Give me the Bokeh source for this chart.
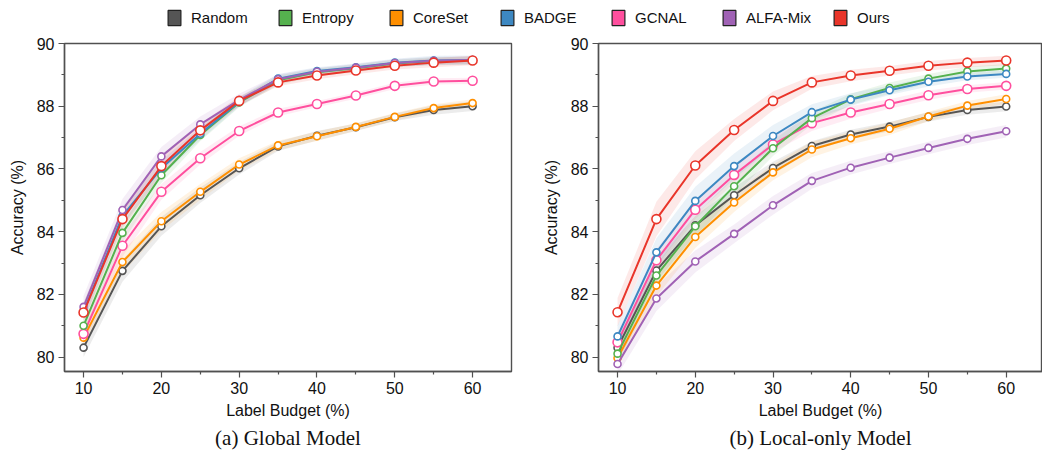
from bokeh.plotting import figure
from bokeh.models import Range1d, FixedTicker, Legend, LegendItem, Title
from bokeh.layouts import column, row
from bokeh.embed import file_html
from bokeh.resources import INLINE

# ---------------- data ----------------
BUDGET = [10, 15, 20, 25, 30, 35, 40, 45, 50, 55, 60]
METHODS = ["Random", "Entropy", "CoreSet", "BADGE", "GCNAL", "ALFA-Mix", "Ours"]
COLORS = ["#555555", "#55b14e", "#ff8f00", "#3d88c2", "#ff4f9e", "#a062b5", "#e9352a"]

X_TICKS = [10, 20, 30, 40, 50, 60]
Y_TICKS = [80, 82, 84, 86, 88, 90]

# (a) Global Model
RANDOM_G = [80.30, 82.75, 84.17, 85.16, 86.02, 86.72, 87.06, 87.33, 87.65, 87.88, 88.00]
ENTROPY_G = [81.00, 83.96, 85.80, 87.08, 88.12, 88.83, 89.08, 89.21, 89.36, 89.44, 89.46]
CORESET_G = [80.62, 83.03, 84.33, 85.27, 86.14, 86.75, 87.04, 87.34, 87.66, 87.94, 88.10]
BADGE_G = [81.45, 84.50, 86.02, 87.12, 88.14, 88.88, 89.12, 89.24, 89.39, 89.46, 89.47]
GCNAL_G = [80.74, 83.55, 85.27, 86.34, 87.21, 87.80, 88.07, 88.34, 88.65, 88.79, 88.81]
ALFA_G = [81.60, 84.69, 86.40, 87.42, 88.20, 88.86, 89.10, 89.23, 89.38, 89.45, 89.47]
OURS_G = [81.42, 84.40, 86.09, 87.23, 88.17, 88.76, 88.98, 89.14, 89.29, 89.39, 89.46]

STD_RANDOM_G = [0.30, 0.35, 0.30, 0.25, 0.20, 0.15, 0.15, 0.12, 0.12, 0.15, 0.15]
STD_ENTROPY_G = [0.30, 0.30, 0.25, 0.20, 0.15, 0.15, 0.12, 0.12, 0.12, 0.12, 0.12]
STD_CORESET_G = [0.30, 0.35, 0.30, 0.25, 0.20, 0.15, 0.15, 0.12, 0.12, 0.12, 0.12]
STD_BADGE_G = [0.30, 0.30, 0.25, 0.20, 0.15, 0.15, 0.12, 0.12, 0.12, 0.15, 0.15]
STD_GCNAL_G = [0.30, 0.35, 0.25, 0.20, 0.15, 0.12, 0.10, 0.10, 0.10, 0.10, 0.10]
STD_ALFA_G = [0.35, 0.35, 0.30, 0.25, 0.20, 0.15, 0.12, 0.12, 0.12, 0.12, 0.12]
STD_OURS_G = [0.30, 0.30, 0.25, 0.20, 0.15, 0.12, 0.12, 0.12, 0.12, 0.15, 0.15]

# (b) Local-only Model
RANDOM_L = [80.30, 82.76, 84.20, 85.16, 86.03, 86.73, 87.10, 87.35, 87.66, 87.88, 87.99]
ENTROPY_L = [80.11, 82.60, 84.17, 85.45, 86.66, 87.62, 88.22, 88.58, 88.88, 89.11, 89.20]
CORESET_L = [79.97, 82.28, 83.83, 84.93, 85.89, 86.62, 86.98, 87.28, 87.67, 88.02, 88.23]
BADGE_L = [80.66, 83.34, 84.98, 86.09, 87.05, 87.81, 88.21, 88.51, 88.78, 88.95, 89.03]
GCNAL_L = [80.47, 83.09, 84.70, 85.81, 86.78, 87.46, 87.80, 88.07, 88.35, 88.55, 88.65]
ALFA_L = [79.78, 81.87, 83.05, 83.93, 84.84, 85.62, 86.04, 86.36, 86.67, 86.96, 87.20]
OURS_L = [81.43, 84.40, 86.11, 87.24, 88.17, 88.76, 88.98, 89.13, 89.29, 89.39, 89.46]

STD_RANDOM_L = [0.30, 0.35, 0.30, 0.25, 0.20, 0.15, 0.15, 0.15, 0.15, 0.15, 0.15]
STD_ENTROPY_L = [0.30, 0.35, 0.35, 0.30, 0.25, 0.20, 0.18, 0.18, 0.15, 0.15, 0.15]
STD_CORESET_L = [0.30, 0.35, 0.35, 0.30, 0.25, 0.25, 0.20, 0.20, 0.15, 0.15, 0.15]
STD_BADGE_L = [0.35, 0.45, 0.45, 0.40, 0.35, 0.25, 0.20, 0.15, 0.15, 0.12, 0.12]
STD_GCNAL_L = [0.30, 0.35, 0.30, 0.25, 0.25, 0.25, 0.20, 0.15, 0.15, 0.12, 0.12]
STD_ALFA_L = [0.35, 0.40, 0.35, 0.30, 0.30, 0.25, 0.22, 0.20, 0.20, 0.20, 0.20]
STD_OURS_L = [0.45, 0.55, 0.45, 0.35, 0.30, 0.20, 0.18, 0.15, 0.15, 0.15, 0.15]

GLOBAL = [RANDOM_G, ENTROPY_G, CORESET_G, BADGE_G, GCNAL_G, ALFA_G, OURS_G]
GLOBAL_STD = [STD_RANDOM_G, STD_ENTROPY_G, STD_CORESET_G, STD_BADGE_G, STD_GCNAL_G, STD_ALFA_G, STD_OURS_G]
LOCAL = [RANDOM_L, ENTROPY_L, CORESET_L, BADGE_L, GCNAL_L, ALFA_L, OURS_L]
LOCAL_STD = [STD_RANDOM_L, STD_ENTROPY_L, STD_CORESET_L, STD_BADGE_L, STD_GCNAL_L, STD_ALFA_L, STD_OURS_L]

# ---------------- styling ----------------
SANS = "Liberation Sans"
SERIF = "Liberation Serif"
AXIS_COLOR = "#505050"
DRAW_ORDER = [0, 2, 4, 1, 3, 5, 6]
MARKER_SIZE = [7, 7, 7, 7, 9, 7, 9]


def make_panel(series, stds, caption, width, x_end, border_right):
    p = figure(width=width, height=420, output_backend="svg", toolbar_location=None,
               x_range=Range1d(7.55, x_end), y_range=Range1d(79.54, 90.0),
               min_border_left=64, min_border_right=border_right,
               min_border_top=10, min_border_bottom=82)
    p.background_fill_color = "white"
    p.border_fill_color = "white"
    p.outline_line_color = AXIS_COLOR
    p.outline_line_width = 1.4
    p.xgrid.visible = False
    p.ygrid.visible = False

    for i in DRAW_ORDER:
        ys = series[i]
        sd = stds[i]
        lo = [a - b for a, b in zip(ys, sd)]
        hi = [a + b for a, b in zip(ys, sd)]
        p.varea(x=BUDGET, y1=lo, y2=hi, fill_color=COLORS[i], fill_alpha=0.11)
    for i in DRAW_ORDER:
        p.line(BUDGET, series[i], line_color=COLORS[i], line_width=2)
        p.scatter(BUDGET, series[i], marker="circle", size=MARKER_SIZE[i],
                  fill_color="white", line_color=COLORS[i], line_width=1.6)

    p.xaxis.ticker = FixedTicker(ticks=X_TICKS, minor_ticks=[15, 25, 35, 45, 55])
    p.yaxis.ticker = FixedTicker(ticks=Y_TICKS, minor_ticks=[81, 83, 85, 87, 89])
    for ax in (p.xaxis, p.yaxis):
        ax.axis_line_color = AXIS_COLOR
        ax.axis_line_width = 1.4
        ax.major_tick_line_color = AXIS_COLOR
        ax.minor_tick_line_color = AXIS_COLOR
        ax.major_tick_line_width = 1.2
        ax.minor_tick_line_width = 1.2
        ax.major_tick_out = 6
        ax.major_tick_in = 0
        ax.minor_tick_out = 3
        ax.minor_tick_in = 0
        ax.major_label_text_font = SANS
        ax.major_label_text_font_size = "16px"
        ax.major_label_text_color = "#111111"
        ax.major_label_standoff = 4
        ax.axis_label_text_font = SANS
        ax.axis_label_text_font_size = "16px"
        ax.axis_label_text_font_style = "normal"
        ax.axis_label_text_color = "#111111"
    p.xaxis.axis_label = "Label Budget (%)"
    p.yaxis.axis_label = "Accuracy (%)"
    p.xaxis.axis_label_standoff = 5
    p.yaxis.axis_label_standoff = 8

    p.add_layout(Title(text=caption, align="center", text_font=SERIF,
                       text_font_size="21px", text_font_style="normal",
                       text_color="#111111", standoff=4, offset=0), "below")
    return p


p1 = make_panel(GLOBAL, GLOBAL_STD, "(a) Global Model", 534, 65.0, 23)
p2 = make_panel(LOCAL, LOCAL_STD, "(b) Local-only Model", 508, 64.67, 0)

# ---------------- legend strip ----------------
p0 = figure(width=1042, height=33, output_backend="svg", toolbar_location=None,
            x_axis_type=None, y_axis_type=None, min_border=0)
p0.outline_line_color = None
p0.xgrid.visible = False
p0.ygrid.visible = False
NAN = float("nan")
items = []
for m, c in zip(METHODS, COLORS):
    r = p0.quad(left=[NAN], right=[NAN], top=[NAN], bottom=[NAN], fill_color=c,
                line_color="#222222", line_width=1.2)
    items.append(LegendItem(label=m, renderers=[r]))
legend = Legend(items=items, orientation="horizontal", location=(166, 6),
                glyph_width=16, glyph_height=19, label_width=86, label_standoff=9,
                spacing=0, padding=0, margin=0, border_line_color=None,
                background_fill_alpha=0, label_text_font=SANS,
                label_text_font_size="15px", label_text_color="#111111")
p0.add_layout(legend)

layout = column(p0, row(p1, p2, spacing=0), spacing=0)
open("out.html", "w").write(file_html(layout, INLINE))
